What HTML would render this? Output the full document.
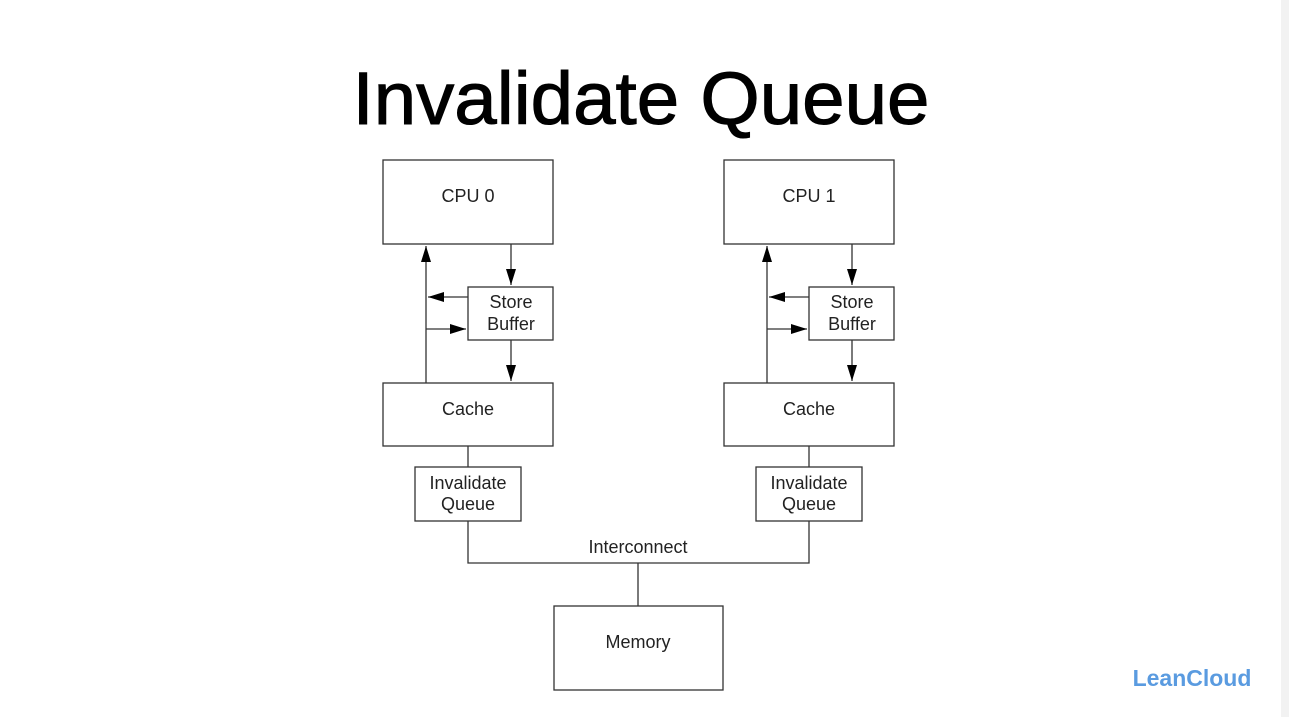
<!DOCTYPE html>
<html><head><meta charset="utf-8"><style>
html,body{margin:0;padding:0;background:#fff;}
svg{display:block;}
text{font-family:"Liberation Sans",Arial,sans-serif;}
</style></head><body>
<svg width="1289" height="717" viewBox="0 0 1289 717" xmlns="http://www.w3.org/2000/svg">
<defs>
<marker id="b" viewBox="0 0 16 10" markerWidth="16" markerHeight="10" refX="16" refY="5" orient="auto" markerUnits="userSpaceOnUse"><path d="M0,0 L16,5 L0,10 z" fill="#000"/></marker></defs>
<rect x="0" y="0" width="1289" height="717" fill="#fff"/>
<rect x="1281" y="0" width="8" height="717" fill="#f2f2f2"/>
<text x="641" y="124" font-size="74" text-anchor="middle" textLength="577" lengthAdjust="spacingAndGlyphs" fill="#000" stroke="#000" stroke-width="1">Invalidate Queue</text>
<g fill="none" stroke="#333" stroke-width="1.3">
<g id="L">
<rect x="383" y="160" width="170" height="84"/>
<rect x="468" y="287" width="85" height="53"/>
<rect x="383" y="383" width="170" height="63"/>
<rect x="415" y="467" width="106" height="54"/>
<line x1="468" y1="446" x2="468" y2="467"/>
<line x1="426" y1="383" x2="426" y2="246" marker-end="url(#b)"/>
<line x1="511" y1="244" x2="511" y2="285" marker-end="url(#b)"/>
<line x1="511" y1="340" x2="511" y2="381" marker-end="url(#b)"/>
<line x1="468" y1="297" x2="428" y2="297" marker-end="url(#b)"/>
<line x1="426" y1="329" x2="466" y2="329" marker-end="url(#b)"/>
</g>
<use href="#L" x="341"/>
<polyline points="468,521 468,563 809,563 809,521"/>
<line x1="638" y1="563" x2="638" y2="606"/>
<rect x="554" y="606" width="169" height="84"/>
</g>
<g font-size="18" fill="#222" text-anchor="middle">
<text x="468" y="202">CPU 0</text>
<text x="809" y="202">CPU 1</text>
<text x="511" y="308">Store</text><text x="511" y="330">Buffer</text>
<text x="852" y="308">Store</text><text x="852" y="330">Buffer</text>
<text x="468" y="415">Cache</text>
<text x="809" y="415">Cache</text>
<text x="468" y="489">Invalidate</text><text x="468" y="510">Queue</text>
<text x="809" y="489">Invalidate</text><text x="809" y="510">Queue</text>
<text x="638" y="553">Interconnect</text>
<text x="638" y="648">Memory</text>
</g>
<text x="1192" y="686" font-size="23" font-weight="bold" fill="#5a9be0" text-anchor="middle">LeanCloud</text>
</svg>
</body></html>
